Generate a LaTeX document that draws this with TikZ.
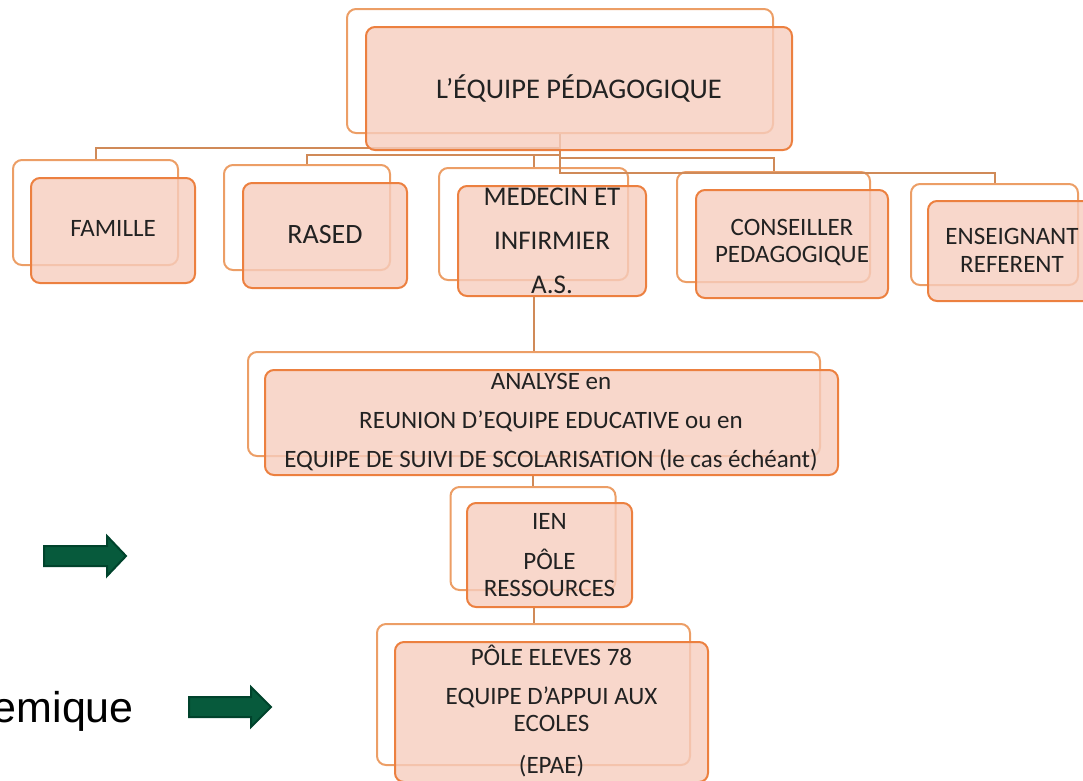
\documentclass[tikz,border=0pt]{standalone}
\usepackage{fontspec}
\setmainfont{Carlito}
\newfontfamily\arialfont{Liberation Sans}
\usepackage{tikz}

\definecolor{boxfill}{HTML}{F6CDBE}
\definecolor{boxedge}{HTML}{EC8040}
\definecolor{frameedge}{HTML}{EC9E66}
\definecolor{linkedge}{HTML}{D08A58}
\definecolor{arrowfill}{HTML}{075A3C}
\definecolor{arrowedge}{HTML}{00432C}
\definecolor{boxtextcol}{HTML}{222222}

\tikzset{
  backframe/.style={draw=frameedge, line width=2pt, rounded corners=9pt, inner sep=0pt},
  frontbox/.style={draw=boxedge, line width=2pt, fill=boxfill, fill opacity=0.8, rounded corners=9pt, inner sep=0pt},
  boxtext/.style={align=center, text=boxtextcol, inner sep=0pt, font=\fontsize{25}{27}\selectfont},
  link/.style={draw=linkedge, line width=2pt},
  greenarrow/.style={draw=arrowedge, fill=arrowfill, line width=2pt, line join=miter}
}

\begin{document}
\begin{tikzpicture}[x=1pt, y=-1pt]
            \useasboundingbox (0,0) rectangle (1083,780);
            \clip (0,0) rectangle (1083,780);
            % back frames
            \node[backframe, minimum width=426pt, minimum height=124pt] (topback) at (560,71) {};
            \node[backframe, minimum width=165pt, minimum height=105pt] (famback) at (95.5,212.5) {};
            \node[backframe, minimum width=166pt, minimum height=105pt] (rasback) at (307,217.5) {};
            \node[backframe, minimum width=189pt, minimum height=112pt] (medback) at (533.5,224) {};
            \node[backframe, minimum width=193pt, minimum height=110pt] (conback) at (773.5,227) {};
            \node[backframe, minimum width=167pt, minimum height=101pt] (ensback) at (994.5,234.5) {};
            \node[backframe, minimum width=572pt, minimum height=104pt] (anaback) at (534,404) {};
            \node[backframe, minimum width=165pt, minimum height=103pt] (ienback) at (533,538.5) {};
            \node[backframe, minimum width=313pt, minimum height=141pt] (poleback) at (533.5,694.5) {};
            % links
            \draw[link] (topback.south) -- ++(0,14) -| (famback.north);
            \draw[link] (topback.south) -- ++(0,21) -| (rasback.north);
            \draw[link] (topback.south) -- ++(0,21) -| (medback.north);
            \draw[link] (topback.south) -- ++(0,24) -| (conback.north);
            \draw[link] (topback.south) -- ++(0,39) -| (ensback.north);
            % front boxes
            \node[frontbox, minimum width=426pt, minimum height=123pt] (topfront) at (579,88.5) {};
            \node[frontbox, minimum width=164pt, minimum height=105pt] (famfront) at (113,230.5) {};
            \node[frontbox, minimum width=164pt, minimum height=105pt] (rasfront) at (325,235.5) {};
            \node[frontbox, minimum width=188pt, minimum height=110pt] (medfront) at (552,241) {};
            \node[frontbox, minimum width=192pt, minimum height=108pt] (confront) at (792,244) {};
            \node[frontbox, minimum width=167pt, minimum height=100pt] (ensfront) at (1011.5,251) {};
            \node[frontbox, minimum width=573pt, minimum height=105pt] (anafront) at (551.5,422.5) {};
            \node[frontbox, minimum width=165pt, minimum height=104pt] (ienfront) at (549.5,555) {};
            \node[frontbox, minimum width=313pt, minimum height=140pt] (polefront) at (551.5,712) {};
            \draw[link] (anaback.north |- medfront.south) -- (anaback.north);
            \draw[link] (ienback.north |- anafront.south) -- (ienback.north);
            \draw[link] (poleback.north |- ienfront.south) -- (poleback.north);
            % texts
            \node[boxtext, font=\fontsize{28.5}{30}\selectfont] (toptext) at (579,88) {L’ÉQUIPE PÉDAGOGIQUE};
            \node[boxtext] (famtext) at (113,228) {FAMILLE};
            \node[boxtext, font=\fontsize{28}{30}\selectfont] (rastext) at (325,235) {RASED};
            \node[boxtext, font=\fontsize{27}{44}\selectfont] (medtext) at (552,241) {MEDECIN ET\\INFIRMIER\\A.S.};
            \node[boxtext] (context) at (792,243) {CONSEILLER\\PEDAGOGIQUE};
            \node[boxtext, font=\fontsize{25}{28}\selectfont] (enstext) at (1012,250) {ENSEIGNANT\\REFERENT};
            \node[boxtext, font=\fontsize{25}{39}\selectfont] (anatext) at (551,422) {ANALYSE en\\REUNION D’EQUIPE EDUCATIVE ou en\\EQUIPE DE SUIVI DE SCOLARISATION (le cas échéant)};
            \node[boxtext] (ientext) at (549.5,555) {IEN\\[13pt]PÔLE\\RESSOURCES};
            \node[boxtext] (poletext) at (551.5,711) {PÔLE ELEVES 78\\[12pt]EQUIPE D’APPUI AUX\\ECOLES\\[15pt](EPAE)};
            \node[anchor=base east, inner sep=0pt, font=\arialfont\fontsize{43}{45}\selectfont] (acadtext) at (134,722) {emique};
            % arrows
            \draw[greenarrow] (44,546) -- (107,546) -- (107,536) -- (126,556) -- (107,576) -- (107,566) -- (44,566) -- cycle;
            \draw[greenarrow] (189,697) -- (251,697) -- (251,687) -- (271,707) -- (251,727) -- (251,717) -- (189,717) -- cycle;
        \end{tikzpicture}
\end{document}
